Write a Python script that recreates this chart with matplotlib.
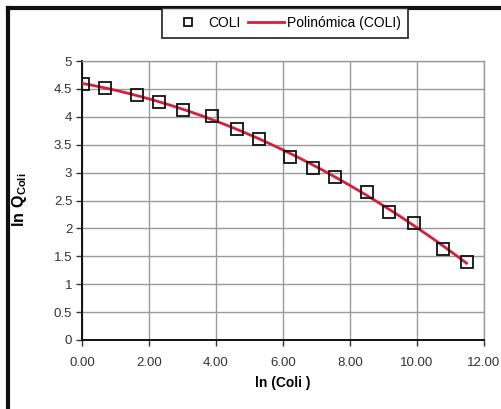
import numpy as np
import matplotlib
matplotlib.use("Agg")
import matplotlib.pyplot as plt
from matplotlib.lines import Line2D

plt.rcParams["font.family"] = ["Liberation Sans", "DejaVu Sans"]
plt.rcParams["mathtext.fontset"] = "custom"
plt.rcParams["mathtext.rm"] = "Liberation Sans"
plt.rcParams["mathtext.bf"] = "Liberation Sans:bold"

# Observed values
ln_coli = [0.02, 0.69, 1.63, 2.30, 3.02, 3.89, 4.62, 5.29,
           6.21, 6.91, 7.55, 8.52, 9.17, 9.91, 10.79, 11.48]
ln_q_coli = [4.59, 4.51, 4.39, 4.26, 4.12, 4.02, 3.79, 3.61,
             3.28, 3.08, 2.93, 2.66, 2.30, 2.09, 1.63, 1.40]

x_ticks = [0, 2, 4, 6, 8, 10, 12]
x_tick_labels = ["0.00", "2.00", "4.00", "6.00", "8.00", "10.00", "12.00"]
y_ticks = [0, 0.5, 1, 1.5, 2, 2.5, 3, 3.5, 4, 4.5, 5]
y_tick_labels = ["0", "0.5", "1", "1.5", "2", "2.5", "3", "3.5", "4", "4.5", "5"]

W, H = 502, 409
fig = plt.figure(figsize=(W / 100, H / 100), dpi=100)
fig.patch.set_facecolor("white")

ax = fig.add_axes([82 / W, 1 - 340 / H, (484 - 82) / W, (340 - 61) / H])

# Second-order polynomial trend line
coef = np.polyfit(ln_coli, ln_q_coli, 2)
xs = np.linspace(min(ln_coli), max(ln_coli), 200)
ax.plot(xs, np.polyval(coef, xs), color="#d81e3a", lw=2.0, zorder=3,
        label="Polinómica (COLI)")
ax.plot(ln_coli, ln_q_coli, linestyle="none", marker="s", markersize=8.5,
        markerfacecolor="none", markeredgecolor="#111111", markeredgewidth=1.3,
        zorder=4, label="COLI")

ax.set_xlim(0, 12)
ax.set_ylim(0, 5)
ax.set_xticks(x_ticks)
ax.set_xticklabels(x_tick_labels)
ax.set_yticks(y_ticks)
ax.set_yticklabels(y_tick_labels)
ax.grid(True, color="#9a9a9a", lw=1.0)
ax.set_axisbelow(True)

for side in ("top", "right"):
    ax.spines[side].set_color("#9a9a9a")
    ax.spines[side].set_linewidth(1.0)
for side in ("left", "bottom"):
    ax.spines[side].set_color("#111111")
    ax.spines[side].set_linewidth(1.4)

ax.tick_params(axis="both", direction="out", length=4, width=1.0,
               color="#333333", labelsize=9.5, labelcolor="#333333")
ax.tick_params(axis="x", pad=8)
ax.tick_params(axis="y", pad=3)

ax.set_xlabel("ln (Coli )", fontsize=10, fontweight="bold", labelpad=5)
fig.text(20 / W, 1 - 200 / H, r"$\mathbf{ln\ Q}_{\mathbf{Coli}}$",
         rotation=90, ha="center", va="center", fontsize=11.5)

# Outer chart frame (left and top edges)
fig.add_artist(Line2D([8 / W, 8 / W], [0, 1 - 8 / H], transform=fig.transFigure,
                      color="#111111", lw=3))
fig.add_artist(Line2D([8 / W, 1], [1 - 8 / H, 1 - 8 / H], transform=fig.transFigure,
                      color="#111111", lw=3))

handles, labels = ax.get_legend_handles_labels()
leg = fig.legend(handles[::-1], labels[::-1], loc="center",
                 bbox_to_anchor=(285 / W, 1 - 23 / H), ncol=2, frameon=True,
                 fontsize=10, handlelength=2.6, handletextpad=0.2,
                 columnspacing=0.5, borderpad=0.55, borderaxespad=0,
                 markerscale=0.65, fancybox=False, shadow=False,
                 edgecolor="#111111")
leg.get_frame().set_linewidth(1.4)
leg.set_zorder(10)

fig.savefig("out.png", dpi=100, facecolor="white")
